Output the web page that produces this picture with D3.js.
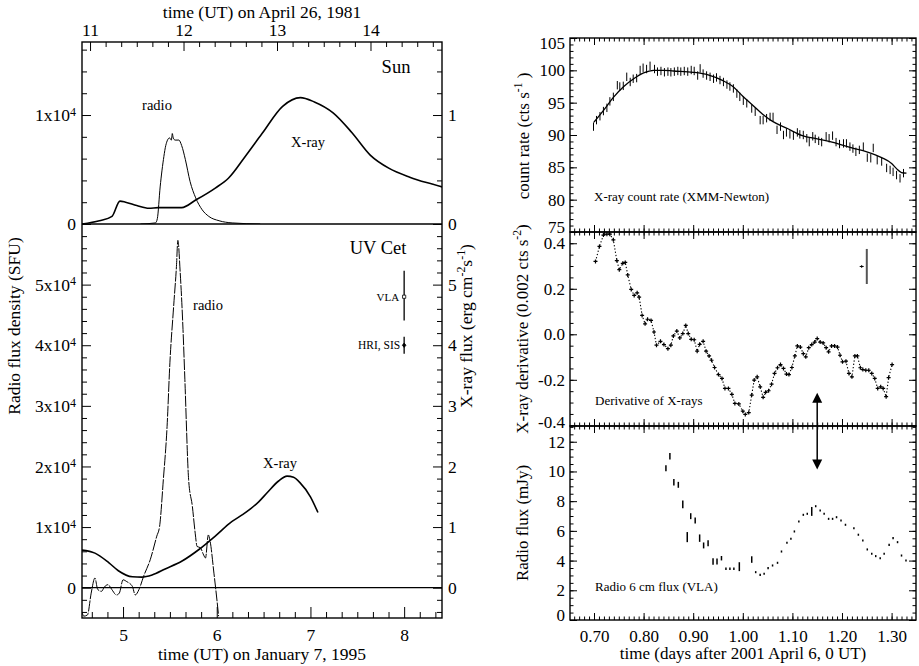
<!DOCTYPE html>
<html>
<head>
<meta charset="utf-8">
<script src="https://cdnjs.cloudflare.com/ajax/libs/d3/7.8.5/d3.min.js"></script>
<style>
body { margin: 0; background: #fff; }
svg { display: block; font-family: "Liberation Serif", "DejaVu Serif", serif; }
.frame { fill: none; stroke: #000; stroke-width: 1.4px; }
.tick line { stroke: #000; stroke-width: 1px; }
.curve { fill: none; stroke: #000; }
</style>
</head>
<body>
<svg width="919" height="666"></svg>
<script>
// ---- left figure: Sun, April 26 1981 (top time axis) ----
const sunXrayTime = [10.91, 11.10, 11.235, 11.32, 11.38, 11.50, 11.63, 11.73, 11.98, 12.13, 12.34, 12.48, 12.66, 12.84, 13.06, 13.25, 13.40, 13.60, 13.80, 14.00, 14.20, 14.42, 14.60, 14.77];
const sunXray = [0.0, 0.03, 0.07, 0.21, 0.20, 0.17, 0.145, 0.15, 0.15, 0.22, 0.33, 0.42, 0.62, 0.83, 1.08, 1.16, 1.12, 1.02, 0.84, 0.63, 0.51, 0.43, 0.38, 0.34];
const sunRadioTime = [11.54, 11.70, 11.72, 11.75, 11.79, 11.81, 11.85, 11.87, 11.88, 11.89, 11.91, 11.95, 11.98, 12.02, 12.07, 12.13, 12.20, 12.27, 12.38, 12.52, 12.82];
const sunRadio = [0, 100, 500, 3400, 6200, 7200, 7900, 7700, 8300, 7900, 7700, 7700, 7200, 5900, 3900, 2400, 1300, 700, 300, 100, 0];

// ---- left figure: UV Cet, January 7 1995 (bottom time axis) ----
const uvXrayTime = [4.56, 4.70, 4.85, 4.95, 5.10, 5.20, 5.31, 5.45, 5.63, 5.81, 5.99, 6.16, 6.27, 6.36, 6.45, 6.54, 6.66, 6.75, 6.82, 6.89, 7.00, 7.08];
const uvXray = [0.62, 0.57, 0.41, 0.28, 0.18, 0.175, 0.21, 0.31, 0.44, 0.63, 0.86, 1.09, 1.20, 1.30, 1.42, 1.57, 1.76, 1.84, 1.82, 1.73, 1.50, 1.24];
const uvRadioTime = [4.563, 4.58, 4.62, 4.66, 4.70, 4.73, 4.77, 4.80, 4.84, 4.88, 4.93, 4.96, 5.00, 5.04, 5.10, 5.13, 5.17, 5.22, 5.29, 5.36, 5.39, 5.43, 5.47, 5.50, 5.54, 5.57, 5.585, 5.61, 5.64, 5.66, 5.70, 5.74, 5.77, 5.79, 5.825, 5.86, 5.88, 5.91, 5.93, 5.97, 5.99, 6.02];
const uvRadio = [-4000, -4700, -4500, -900, 1600, -300, -600, 100, 500, -300, -1200, -900, 1300, 1000, 200, -1200, -300, 1900, 4600, 8500, 10100, 17800, 26600, 37100, 46400, 53000, 57300, 52000, 42600, 34300, 17800, 13400, 9000, 6800, 6600, 5400, 4900, 8700, 7600, 2400, -300, -4700];
// observation error bars at 8 UT
const vlaPoint = {t: 8.0, v: 4.8, lo: 4.41, hi: 5.23};
const hriPoint = {t: 8.0, v: 4.0, lo: 3.86, hi: 4.14};

// ---- right figure: 2001 April 6 ----
const xmmTime = [0.699,0.705,0.712,0.719,0.726,0.732,0.739,0.747,0.752,0.759,0.766,0.773,0.779,0.786,0.793,0.799,0.806,0.813,0.822,0.828,0.835,0.842,0.849,0.855,0.862,0.869,0.875,0.882,0.889,0.896,0.902,0.909,0.914,0.920,0.927,0.934,0.941,0.947,0.954,0.961,0.968,0.974,0.981,0.988,0.994,1.001,1.008,1.018,1.025,1.035,1.041,1.048,1.055,1.061,1.069,1.076,1.082,1.088,1.095,1.102,1.110,1.115,1.122,1.129,1.134,1.141,1.146,1.153,1.159,1.168,1.174,1.181,1.188,1.195,1.203,1.209,1.216,1.222,1.228,1.235,1.243,1.251,1.258,1.263,1.271,1.280,1.290,1.297,1.303,1.310,1.317,1.324];
const xmmRate = [91.3,92.3,92.9,93.7,94.2,95.2,95.9,97.7,97.5,97.6,99.0,98.2,98.7,98.8,100.05,100.4,100.2,100.7,100.2,99.8,99.9,99.7,99.8,99.7,99.8,99.9,99.8,99.9,99.8,100.05,99.9,99.2,100.3,99.5,99.2,99.0,98.7,98.9,98.5,98.2,97.8,97.5,97.2,96.4,95.9,95.3,94.9,94.1,93.6,92.3,92.3,92.6,92.8,92.8,90.8,91.3,90.0,90.4,90.1,89.9,90.4,90.1,90.0,89.5,88.9,89.8,89.4,89.1,88.9,89.8,89.5,89.9,88.9,88.6,88.7,88.7,88.2,87.9,87.4,87.7,88.2,86.5,86.4,88.0,86.1,85.9,84.9,84.6,84.3,83.8,83.3,84.1];
const xmmErr = 0.65;
const xmmModelTime = [0.700,0.720,0.740,0.760,0.780,0.800,0.820,0.840,0.860,0.900,0.930,0.960,0.980,1.000,1.020,1.040,1.060,1.090,1.120,1.150,1.180,1.220,1.250,1.280,1.300,1.310,1.320,1.330];
const xmmModel = [92.0,93.9,95.9,97.5,98.7,99.6,100.0,100.0,99.9,99.7,99.3,98.4,97.5,96.0,94.6,93.2,92.1,91.0,89.9,89.4,88.9,88.0,87.4,86.5,85.6,84.8,84.2,84.1];

const derivTime = [0.703,0.711,0.719,0.726,0.732,0.739,0.746,0.751,0.758,0.763,0.768,0.775,0.781,0.787,0.791,0.797,0.803,0.808,0.815,0.821,0.826,0.834,0.841,0.849,0.855,0.860,0.867,0.873,0.879,0.885,0.890,0.896,0.902,0.908,0.913,0.920,0.926,0.932,0.937,0.943,0.951,0.958,0.964,0.971,0.978,0.984,0.992,1.000,1.005,1.012,1.018,1.023,1.029,1.035,1.041,1.046,1.052,1.058,1.064,1.070,1.076,1.082,1.088,1.093,1.099,1.105,1.110,1.116,1.122,1.127,1.133,1.139,1.145,1.150,1.156,1.162,1.168,1.173,1.179,1.185,1.191,1.196,1.201,1.208,1.214,1.220,1.226,1.231,1.237,1.242,1.248,1.254,1.260,1.266,1.272,1.278,1.283,1.289,1.294,1.301];
const deriv = [0.32,0.386,0.436,0.44,0.44,0.415,0.324,0.284,0.312,0.316,0.261,0.197,0.171,0.182,0.163,0.083,0.046,0.066,0.061,0.010,-0.048,-0.031,-0.045,-0.063,-0.048,-0.007,0.014,-0.016,0.003,0.039,0.003,-0.022,-0.024,-0.074,-0.044,-0.031,-0.074,-0.095,-0.114,-0.146,-0.177,-0.194,-0.238,-0.238,-0.264,-0.304,-0.306,-0.338,-0.352,-0.344,-0.267,-0.201,-0.187,-0.231,-0.277,-0.255,-0.248,-0.219,-0.172,-0.147,-0.133,-0.150,-0.175,-0.177,-0.146,-0.095,-0.051,-0.056,-0.085,-0.099,-0.059,-0.045,-0.034,-0.019,-0.034,-0.038,-0.059,-0.077,-0.051,-0.051,-0.056,-0.092,-0.121,-0.118,-0.172,-0.187,-0.095,-0.095,-0.147,-0.155,-0.158,-0.158,-0.172,-0.194,-0.238,-0.231,-0.238,-0.274,-0.190,-0.133];
// typical error shown in the derivative panel
const derivErrCross = {t: 1.2397, v: 0.298, dt: 0.004, dv: 0.006};
const derivErrBar = {t: 1.25, lo: 0.221, hi: 0.375};

const vlaTime = [0.845,0.853,0.861,0.870,0.879,0.888,0.895,0.904,0.913,0.921,0.930,0.940,0.948,0.957,0.966,0.974,0.982,0.993,1.018,1.026,1.035,1.043,1.051,1.060,1.070,1.078,1.089,1.097,1.104,1.113,1.122,1.130,1.139,1.147,1.156,1.164,1.173,1.181,1.189,1.198,1.207,1.224,1.233,1.242,1.251,1.260,1.268,1.277,1.285,1.295,1.303,1.312,1.320,1.329];
const vlaFlux = [10.22,11.03,9.28,9.10,7.78,5.58,6.99,6.70,5.51,5.02,5.17,3.94,3.94,4.16,3.45,3.45,3.45,3.59,4.07,3.22,3.04,3.11,3.49,3.67,3.85,4.61,5.20,5.47,5.96,6.63,7.08,7.15,7.31,7.66,7.37,7.15,6.81,6.81,6.92,6.70,6.41,6.18,5.74,5.35,4.75,4.46,4.30,4.16,4.46,5.06,5.51,5.24,4.34,4.01];
const vlaErr = [0.2,0.22,0.22,0.2,0.26,0.34,0.2,0.2,0.25,0.2,0.2,0.22,0.2,0.15,0.08,0.08,0.08,0.3,0.22,0.07,0.07,0.07,0.07,0.07,0.07,0.07,0.07,0.07,0.07,0.07,0.07,0.07,0.3,0.07,0.07,0.07,0.07,0.07,0.07,0.07,0.07,0.07,0.07,0.07,0.07,0.07,0.07,0.07,0.07,0.07,0.07,0.07,0.07,0.07];
// double arrow linking derivative maximum and radio peak
const arrowLink = {t: 1.15, derivEnd: -0.257, radioEnd: 10.13};

const svg = d3.select("svg");
svg.append("rect").attr("width", 919).attr("height", 666).attr("fill", "#fff");
const defs = svg.append("defs");

function clip(id, x, y, w, h) {
  defs.append("clipPath").attr("id", id).append("rect")
    .attr("x", x).attr("y", y).attr("width", w).attr("height", h);
  return "url(#" + id + ")";
}

//draw a set of ticks with a d3 axis, no domain line
function axis(parent, make, scale, values, size, pos, fmt, pad) {
  const g = parent.append("g").attr("transform", pos)
    .call(make(scale).tickValues(values).tickSizeInner(size).tickSizeOuter(0)
      .tickPadding(pad || 4).tickFormat(fmt || (() => "")));
  g.select(".domain").remove();
  g.attr("font-family", null).attr("font-size", null);
  return g;
}

//text with superscript parts, given as ["sup"]
function richText(parent, x, y, size, parts, rotate, anchor) {
  const t = parent.append("text")
    .attr("transform", "translate(" + x + "," + y + ")" + (rotate ? " rotate(-90)" : ""))
    .attr("text-anchor", anchor || "middle").attr("font-size", size);
  let shift = 0;
  parts.forEach(p => {
    const sup = Array.isArray(p);
    const s = t.append("tspan").text(sup ? p[0] : p);
    const target = sup ? -size * 0.42 : 0;
    if (target !== shift) s.attr("dy", target - shift);
    shift = target;
    if (sup) s.attr("font-size", size * 0.68);
  });
  return t;
}

const pairs = (xs, ys) => xs.map((t, i) => [t, ys[i]]);
const sixths = (a, b) => d3.range(a, b + 1).map(i => i / 6).filter(v => Math.abs(v - Math.round(v)) > 1e-6);
const steps = (a, b, s) => d3.range(Math.round(a / s), Math.round(b / s) + 1).map(i => +(i * s).toFixed(6));

// ================= left figure =================
const L = {x0: 82, x1: 442, top: 42, mid: 224, bot: 618};
const xSun = d3.scaleLinear().domain([10.914, 14.765]).range([L.x0, L.x1]);
const xUv = d3.scaleLinear().domain([4.562, 8.404]).range([L.x0, L.x1]);
const ySun = d3.scaleLinear().domain([0, 16700]).range([L.mid, L.top]);
const ySunX = d3.scaleLinear().domain([0, 1.67]).range([L.mid, L.top]);
const yUv = d3.scaleLinear().domain([-5000, 60000]).range([L.bot, L.mid]);
const yUvX = d3.scaleLinear().domain([-0.5, 6.0]).range([L.bot, L.mid]);

const lp = svg.append("g").attr("font-size", 17.5);

//time axes
axis(lp, d3.axisTop, xSun, [11, 12, 13, 14], -9, "translate(0," + L.top + ")", d => d, 6);
axis(lp, d3.axisTop, xSun, sixths(66, 88), -5, "translate(0," + L.top + ")");
axis(lp, d3.axisBottom, xUv, [5, 6, 7, 8], -11, "translate(0," + L.bot + ")", d => d, 11);
axis(lp, d3.axisBottom, xUv, sixths(28, 50), -6, "translate(0," + L.bot + ")");

//radio flux (left) axes with 1x10^4 labels
function supLabels(g) {
  g.selectAll(".tick text").filter(d => d !== 0)
    .append("tspan").attr("dy", "-0.45em").attr("font-size", 12).text("4");
}
const sfu = d => d === 0 ? "0" : (d / 1e4) + "x10";
supLabels(axis(lp, d3.axisLeft, ySun, [0, 10000], -9, "translate(" + L.x0 + ",0)", sfu, 6));
axis(lp, d3.axisLeft, ySun, steps(2000, 16000, 2000).filter(v => v !== 10000), -5, "translate(" + L.x0 + ",0)");
supLabels(axis(lp, d3.axisLeft, yUv, [0, 10000, 20000, 30000, 40000, 50000], -9, "translate(" + L.x0 + ",0)", sfu, 6));
axis(lp, d3.axisLeft, yUv, steps(-4000, 58000, 2000).filter(v => v % 10000 !== 0), -5, "translate(" + L.x0 + ",0)");

//x-ray flux (right) axes
axis(lp, d3.axisRight, ySunX, [0, 1], -9, "translate(" + L.x1 + ",0)", d => d, 6);
axis(lp, d3.axisRight, ySunX, steps(0.2, 1.6, 0.2).filter(v => v !== 1), -5, "translate(" + L.x1 + ",0)");
axis(lp, d3.axisRight, yUvX, [0, 1, 2, 3, 4, 5], -9, "translate(" + L.x1 + ",0)", d => d, 6);
axis(lp, d3.axisRight, yUvX, steps(-0.4, 5.8, 0.2).filter(v => Math.abs(v - Math.round(v)) > 1e-6), -5, "translate(" + L.x1 + ",0)");

//frame, divider and zero line
lp.append("rect").attr("class", "frame")
  .attr("x", L.x0).attr("y", L.top).attr("width", L.x1 - L.x0).attr("height", L.bot - L.top);
lp.append("line").attr("stroke", "#000").attr("stroke-width", 1.4)
  .attr("x1", L.x0).attr("x2", L.x1).attr("y1", ySun(0)).attr("y2", ySun(0));
lp.append("line").attr("stroke", "#000").attr("stroke-width", 1.2)
  .attr("x1", L.x0).attr("x2", L.x1).attr("y1", yUv(0)).attr("y2", yUv(0));

//curves
const sunClip = clip("sunclip", L.x0, L.top, L.x1 - L.x0, L.mid - L.top);
const uvClip = clip("uvclip", L.x0, L.mid, L.x1 - L.x0, L.bot - L.mid);

lp.append("path").attr("class", "curve").attr("clip-path", sunClip)
  .attr("stroke", "#333").attr("stroke-width", 1)
  .attr("d", d3.line().curve(d3.curveMonotoneX).x(d => xSun(d[0])).y(d => ySun(d[1]))(pairs(sunRadioTime, sunRadio)));
lp.append("path").attr("class", "curve").attr("clip-path", sunClip)
  .attr("stroke-width", 1.6)
  .attr("d", d3.line().curve(d3.curveMonotoneX).x(d => xSun(d[0])).y(d => ySunX(d[1]))(pairs(sunXrayTime, sunXray)));
lp.append("path").attr("class", "curve").attr("clip-path", uvClip)
  .attr("stroke", "#333").attr("stroke-width", 1).attr("stroke-dasharray", "11,1.3")
  .attr("d", d3.line().curve(d3.curveMonotoneX).x(d => xUv(d[0])).y(d => yUv(d[1]))(pairs(uvRadioTime, uvRadio)));
lp.append("path").attr("class", "curve").attr("clip-path", uvClip)
  .attr("stroke-width", 1.6)
  .attr("d", d3.line().curve(d3.curveMonotoneX).x(d => xUv(d[0])).y(d => yUvX(d[1]))(pairs(uvXrayTime, uvXray)));

//VLA and HRI/SIS error bars
[vlaPoint, hriPoint].forEach((p, i) => {
  lp.append("line").attr("stroke", "#000").attr("stroke-width", 1.3)
    .attr("x1", xUv(p.t)).attr("x2", xUv(p.t)).attr("y1", yUvX(p.lo)).attr("y2", yUvX(p.hi));
  lp.append("path").attr("fill", i ? "#000" : "#fff").attr("stroke", "#000").attr("stroke-width", 0.8)
    .attr("transform", "translate(" + xUv(p.t) + "," + yUvX(p.v) + ")")
    .attr("d", i ? "M0,-2.2L1.8,0L0,2.2L-1.8,0Z" : "M-1.6,-1.6H1.6V1.6H-1.6Z");
});
lp.append("text").attr("x", xUv(vlaPoint.t) - 5).attr("y", yUvX(vlaPoint.v) + 4)
  .attr("text-anchor", "end").attr("font-size", 11).text("VLA");
lp.append("text").attr("x", xUv(hriPoint.t) - 4).attr("y", yUvX(hriPoint.v) + 4)
  .attr("text-anchor", "end").attr("font-size", 11.5).text("HRI, SIS");

//panel labels
lp.append("text").attr("x", 396).attr("y", 73).attr("text-anchor", "middle").attr("font-size", 18.5).text("Sun");
lp.append("text").attr("x", 378).attr("y", 254).attr("text-anchor", "middle").attr("font-size", 18.5).text("UV Cet");
lp.append("text").attr("x", 157).attr("y", 110).attr("text-anchor", "middle").attr("font-size", 14.5).text("radio");
lp.append("text").attr("x", 308).attr("y", 147).attr("text-anchor", "middle").attr("font-size", 14.5).text("X-ray");
lp.append("text").attr("x", 208).attr("y", 310).attr("text-anchor", "middle").attr("font-size", 14.5).text("radio");
lp.append("text").attr("x", 280).attr("y", 468).attr("text-anchor", "middle").attr("font-size", 14.5).text("X-ray");

//axis titles
richText(lp, 262, 18, 17.5, ["time (UT) on April 26, 1981"]);
richText(lp, 262, 660, 17.5, ["time (UT) on January 7, 1995"]);
richText(lp, 20, 326, 17.5, ["Radio flux density (SFU)"], true);
richText(lp, 472, 326, 17.5, ["X-ray flux (erg cm", ["-2"], "s", ["-1"], ")"], true);

// ================= right figure =================
const R = {x0: 570, x1: 916};
const xR = d3.scaleLinear().domain([0.6516, 1.3492]).range([R.x0, R.x1]);
const panels = [
  {y0: 38, y1: 232, y: d3.scaleLinear().domain([75, 105]).range([232, 38]),
   major: steps(75, 105, 5), minor: steps(75, 105, 1), fmt: d => d, nudge: {105: 5, 75: -5}},
  {y0: 232, y1: 426, y: d3.scaleLinear().domain([-0.403, 0.4495]).range([426, 232]),
   major: [-0.4, -0.2, 0, 0.2, 0.4], minor: steps(-0.4, 0.45, 0.05), fmt: d => d.toFixed(1), nudge: {"-0.4": -3}},
  {y0: 426, y1: 620, y: d3.scaleLinear().domain([0, 13.06]).range([620, 426]),
   major: steps(0, 12, 2), minor: steps(0, 13, 0.5), fmt: d => d, nudge: {0: -5}}
];
const rp = svg.append("g").attr("font-size", 17);
const xMajor = steps(0.7, 1.3, 0.1), xMinor = steps(0.66, 1.34, 0.01);

panels.forEach((p, i) => {
  const last = i === panels.length - 1;
  axis(rp, d3.axisTop, xR, xMajor, -7, "translate(0," + p.y0 + ")");
  axis(rp, d3.axisTop, xR, xMinor, -3.5, "translate(0," + p.y0 + ")");
  axis(rp, d3.axisBottom, xR, xMajor, -7, "translate(0," + p.y1 + ")", last ? d => d.toFixed(2) : null, 10);
  axis(rp, d3.axisBottom, xR, xMinor, -3.5, "translate(0," + p.y1 + ")");
  const ly = axis(rp, d3.axisLeft, p.y, p.major, -7, "translate(" + R.x0 + ",0)", p.fmt, 5);
  ly.selectAll(".tick text").attr("transform", d => "translate(0," + (p.nudge[d] || 0) + ")");
  axis(rp, d3.axisLeft, p.y, p.minor, -3.5, "translate(" + R.x0 + ",0)");
  axis(rp, d3.axisRight, p.y, p.major, -7, "translate(" + R.x1 + ",0)");
  axis(rp, d3.axisRight, p.y, p.minor, -3.5, "translate(" + R.x1 + ",0)");
  rp.append("rect").attr("class", "frame")
    .attr("x", R.x0).attr("y", p.y0).attr("width", R.x1 - R.x0).attr("height", p.y1 - p.y0);
});

const [pRate, pDer, pRad] = panels;

//X-ray count rate with model
rp.append("g").selectAll("line").data(pairs(xmmTime, xmmRate)).join("line")
  .attr("stroke", "#000").attr("stroke-width", 1)
  .attr("x1", d => xR(d[0])).attr("x2", d => xR(d[0]))
  .attr("y1", d => pRate.y(d[1] - xmmErr)).attr("y2", d => pRate.y(d[1] + xmmErr));
rp.append("path").attr("class", "curve").attr("stroke-width", 1.3)
  .attr("d", d3.line().curve(d3.curveMonotoneX).x(d => xR(d[0])).y(d => pRate.y(d[1]))(pairs(xmmModelTime, xmmModel)));

//derivative: dotted line with + markers
const derPts = pairs(derivTime, deriv);
rp.append("path").attr("class", "curve").attr("stroke-width", 1.1).attr("stroke-dasharray", "1.3,2")
  .attr("d", d3.line().x(d => xR(d[0])).y(d => pDer.y(d[1]))(derPts));
rp.append("g").selectAll("path").data(derPts).join("path")
  .attr("stroke", "#000").attr("stroke-width", 1.2)
  .attr("transform", d => "translate(" + xR(d[0]) + "," + pDer.y(d[1]) + ")")
  .attr("d", "M-2,0H2M0,-2V2");
rp.append("path").attr("stroke", "#000").attr("stroke-width", 1)
  .attr("d", "M" + xR(derivErrCross.t - derivErrCross.dt) + "," + pDer.y(derivErrCross.v) +
    "H" + xR(derivErrCross.t + derivErrCross.dt) +
    "M" + xR(derivErrCross.t) + "," + pDer.y(derivErrCross.v - derivErrCross.dv) +
    "V" + pDer.y(derivErrCross.v + derivErrCross.dv));
rp.append("line").attr("stroke", "#555").attr("stroke-width", 2)
  .attr("x1", xR(derivErrBar.t)).attr("x2", xR(derivErrBar.t))
  .attr("y1", pDer.y(derivErrBar.lo)).attr("y2", pDer.y(derivErrBar.hi));

//radio 6 cm flux
rp.append("g").selectAll("line").data(vlaTime.map((t, i) => [t, vlaFlux[i], vlaErr[i]])).join("line")
  .attr("stroke", "#000").attr("stroke-width", 1.5)
  .attr("x1", d => xR(d[0])).attr("x2", d => xR(d[0]))
  .attr("y1", d => Math.max(pRad.y(d[1] - d[2]), pRad.y(d[1]) + 1))
  .attr("y2", d => Math.min(pRad.y(d[1] + d[2]), pRad.y(d[1]) - 1));

//double arrow
const ax = xR(arrowLink.t), ayTop = pDer.y(arrowLink.derivEnd), ayBot = pRad.y(arrowLink.radioEnd);
rp.append("line").attr("stroke", "#000").attr("stroke-width", 1.5)
  .attr("x1", ax).attr("x2", ax).attr("y1", ayTop + 8).attr("y2", ayBot - 8);
rp.append("path").attr("fill", "#000")
  .attr("d", "M" + ax + "," + ayTop + "l5,10h-10z M" + ax + "," + ayBot + "l5,-10h-10z");

//inner labels
rp.append("text").attr("x", 594).attr("y", 201).attr("font-size", 13).text("X-ray count rate (XMM-Newton)");
rp.append("text").attr("x", 595).attr("y", 405).attr("font-size", 13).text("Derivative of X-rays");
rp.append("text").attr("x", 595).attr("y", 591).attr("font-size", 13).text("Radio 6 cm flux (VLA)");

//axis titles
richText(rp, 743, 659, 17, ["time (days after 2001 April 6, 0 UT)"]);
richText(rp, 529, 136, 17, ["count rate (cts s", ["-1"], " )"], true);
richText(rp, 528, 329, 17, ["X-ray derivative (0.002 cts s", ["-2"], ")"], true);
richText(rp, 528, 523, 17, ["Radio flux (mJy)"], true);
</script>
</body>
</html>
